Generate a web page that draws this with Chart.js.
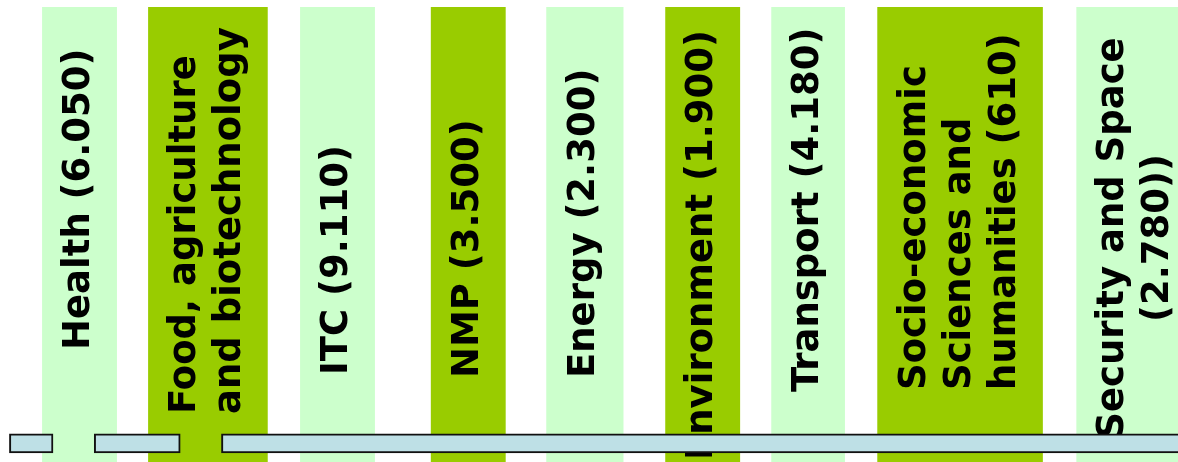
<!DOCTYPE html>
<html lang="en">
<head>
<meta charset="utf-8">
<title>FP7 themes</title>
<script src="https://cdn.jsdelivr.net/npm/chart.js@4.4.1/dist/chart.umd.min.js"></script>
<style>
  html, body { margin: 0; padding: 0; background: #fff; }
  #wrap { width: 1178px; height: 462px; }
</style>
</head>
<body>
<div id="wrap"><canvas id="themes-chart" width="1178" height="462"></canvas></div>
<script>
// Themes, one column each; text lines as printed on the slide.
const themeLabels = [
  ['Health (6.050)'],
  ['Food, agriculture', 'and biotechnology'],
  ['ITC (9.110)'],
  ['NMP (3.500)'],
  ['Energy (2.300)'],
  ['Environment (1.900)'],
  ['Transport (4.180)'],
  ['Socio-economic', 'Sciences and', 'humanities (610)'],
  ['Security and Space', '(2.780))']
];
// Column spans across the slide width (0-100).
const themeStart = [3.6, 12.6, 25.5, 36.6, 46.4, 56.5, 65.5, 74.5, 91.4];
const themeEnd   = [9.9, 22.7, 31.8, 42.9, 52.9, 62.8, 71.7, 88.5, 101.5];
// Blue strip at the foot of the columns.
const stripStart = [0.8, 8.0, 18.8];
const stripEnd   = [4.5, 15.3, 101];
const stripLevel = 95.9;

(function () {
  'use strict';

  const LIGHT = '#CCFFCC';
  const OLIVE = '#99CC00';
  const LABEL_FONT = 'bold 37px "DejaVu Sans"';
  const LINE_H = 45;
  // where each label sits (px from top); text reads bottom to top
  const labelAnchor = [350, 414, 375, 378, 378, 460, 392, 390, 238];
  const labelAlign = ['left', 'left', 'left', 'left', 'left', 'left', 'left', 'left', 'center'];

  // Labels are drawn right after the columns, so the strip covers them.
  const columnLabels = {
    id: 'columnLabels',
    afterDatasetDraw(chart, args) {
      if (args.index !== 0) return;
      const ctx = chart.ctx;
      ctx.save();
      ctx.font = LABEL_FONT;
      ctx.fillStyle = '#000';
      ctx.textBaseline = 'middle';
      args.meta.data.forEach((bar, i) => {
        const c = bar.getCenterPoint();
        const lines = themeLabels[i];
        ctx.save();
        ctx.translate(c.x, labelAnchor[i]);
        ctx.rotate(-Math.PI / 2);
        ctx.textAlign = labelAlign[i];
        lines.forEach((t, k) => ctx.fillText(t, 0, (k - (lines.length - 1) / 2) * LINE_H));
        ctx.restore();
      });
      ctx.restore();
    }
  };

  new Chart(document.getElementById('themes-chart'), {
    type: 'bar',
    data: {
      labels: ['FP7'],
      datasets: [
        {
          label: 'Themes',
          data: themeStart.map((s, i) => ({ x: [s, themeEnd[i]], y: 'FP7' })),
          backgroundColor: themeStart.map((_, i) => (i % 2 ? OLIVE : LIGHT)),
          barPercentage: 1,
          categoryPercentage: 1,
          grouped: false,
          yAxisID: 'y',
          order: 2,
        },
        {
          label: 'Strip',
          data: stripStart.map((s, i) => ({ x: [s, stripEnd[i]], y: stripLevel })),
          backgroundColor: '#BEE0E6',
          borderColor: '#111',
          borderWidth: 2,
          borderSkipped: false,
          barThickness: 19,
          grouped: false,
          yAxisID: 'y2',
          order: 1,
        }
      ]
    },
    options: {
      indexAxis: 'y',
      responsive: false,
      animation: false,
      layout: { padding: { top: 7, left: 0, right: 0, bottom: 0 } },
      plugins: {
        legend: { display: false },
        tooltip: { enabled: false }
      },
      scales: {
        x: { type: 'linear', min: 0, max: 100, display: false },
        y: { type: 'category', display: false },
        y2: { type: 'linear', min: 0, max: 100, reverse: true, offset: false, display: false }
      }
    },
    plugins: [columnLabels]
  });
})();
</script>
</body>
</html>
